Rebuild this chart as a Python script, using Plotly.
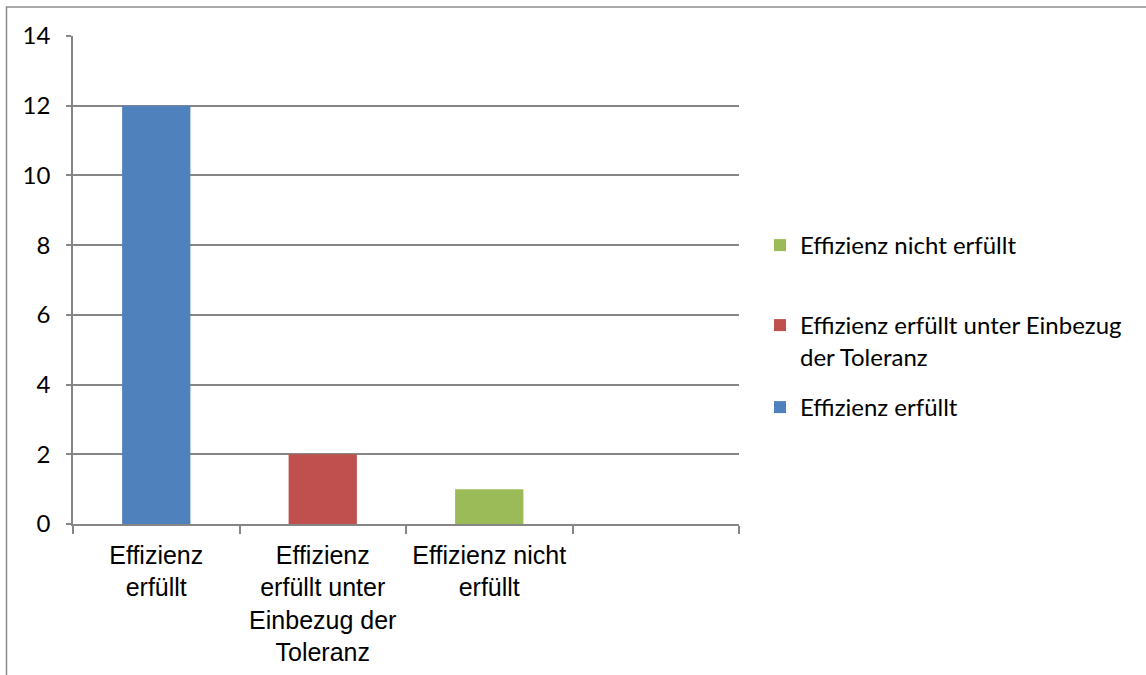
import plotly.graph_objects as go

categories = ["Effizienz<br>erfüllt", "Effizienz<br>erfüllt unter<br>Einbezug der<br>Toleranz", "Effizienz nicht<br>erfüllt", " "]
series_names = ["Effizienz erfüllt", "Effizienz erfüllt unter Einbezug<br>der Toleranz", "Effizienz nicht erfüllt"]
series_values = [12, 2, 1]
series_colors = ["#4F81BD", "#C0504D", "#9BBB59"]
y_ticks = [0, 2, 4, 6, 8, 10, 12, 14]

W, H = 1146, 675
L, R, T, B = 73, 739, 36, 524
pw, ph = R - L, B - T

def px_x(x):
    return (x - L) / pw

def px_y(y):
    return (B - y) / ph

fig = go.Figure()
legend_ids = ["legend3", "legend2", "legend"]
legend_centers = [404, 322, 242]
for i, (name, val, col) in enumerate(zip(series_names, series_values, series_colors)):
    fig.add_trace(go.Bar(
        x=[categories[i]], y=[val], name=name,
        marker=dict(color=col, line=dict(width=0)),
        width=0.41, legend=legend_ids[i],
    ))

legend_common = dict(
    font=dict(family="Lato, 'Open Sans', sans-serif", size=24, color="#000000"),
    xanchor="left", yanchor="top", bgcolor="rgba(0,0,0,0)", valign="top",
    itemclick=False,
)
layout_legends = {}
for lid, cy in zip(legend_ids, legend_centers):
    layout_legends[lid] = dict(legend_common, x=px_x(760), y=px_y(cy - 19))

fig.update_layout(
    width=W, height=H,
    margin=dict(l=L, r=W - R, t=T, b=H - B, pad=0, autoexpand=False),
    paper_bgcolor="white", plot_bgcolor="white",
    barmode="overlay",
    showlegend=True,
    **layout_legends,
    xaxis=dict(
        type="category", categoryorder="array", categoryarray=categories,
        range=[-0.5, 3.5], tickson="boundaries", tickangle=0, automargin=False,
        ticks="outside", ticklen=8, tickwidth=1.5, tickcolor="#868686",
        showline=True, linecolor="#868686", linewidth=1.5,
        showgrid=False, zeroline=False, ticklabelstandoff=8,
        tickfont=dict(family="'Liberation Sans', Arial, sans-serif", size=25, color="#000000"),
        fixedrange=True,
    ),
    yaxis=dict(
        range=[0, 14], tickvals=y_ticks, ticktext=[str(v) for v in y_ticks],
        ticks="outside", ticklen=5, tickwidth=1.5, tickcolor="#868686",
        showline=True, linecolor="#868686", linewidth=1.5,
        showgrid=True, gridcolor="#868686", gridwidth=1.5,
        zeroline=False, ticklabelstandoff=11, automargin=False,
        tickfont=dict(family="Lato, 'Open Sans', sans-serif", size=24, color="#000000"),
        fixedrange=True,
    ),
    shapes=[dict(
        type="rect", xref="paper", yref="paper",
        x0=px_x(6.5), x1=px_x(1160), y0=px_y(690), y1=px_y(7),
        line=dict(color="#8C8C8C", width=1.5), fillcolor="rgba(0,0,0,0)", layer="below",
    )],
)

fig.write_html(
    "out.html",
    config={"displayModeBar": False},
    post_script="document.body.style.margin='0';document.body.style.padding='0';",
)
